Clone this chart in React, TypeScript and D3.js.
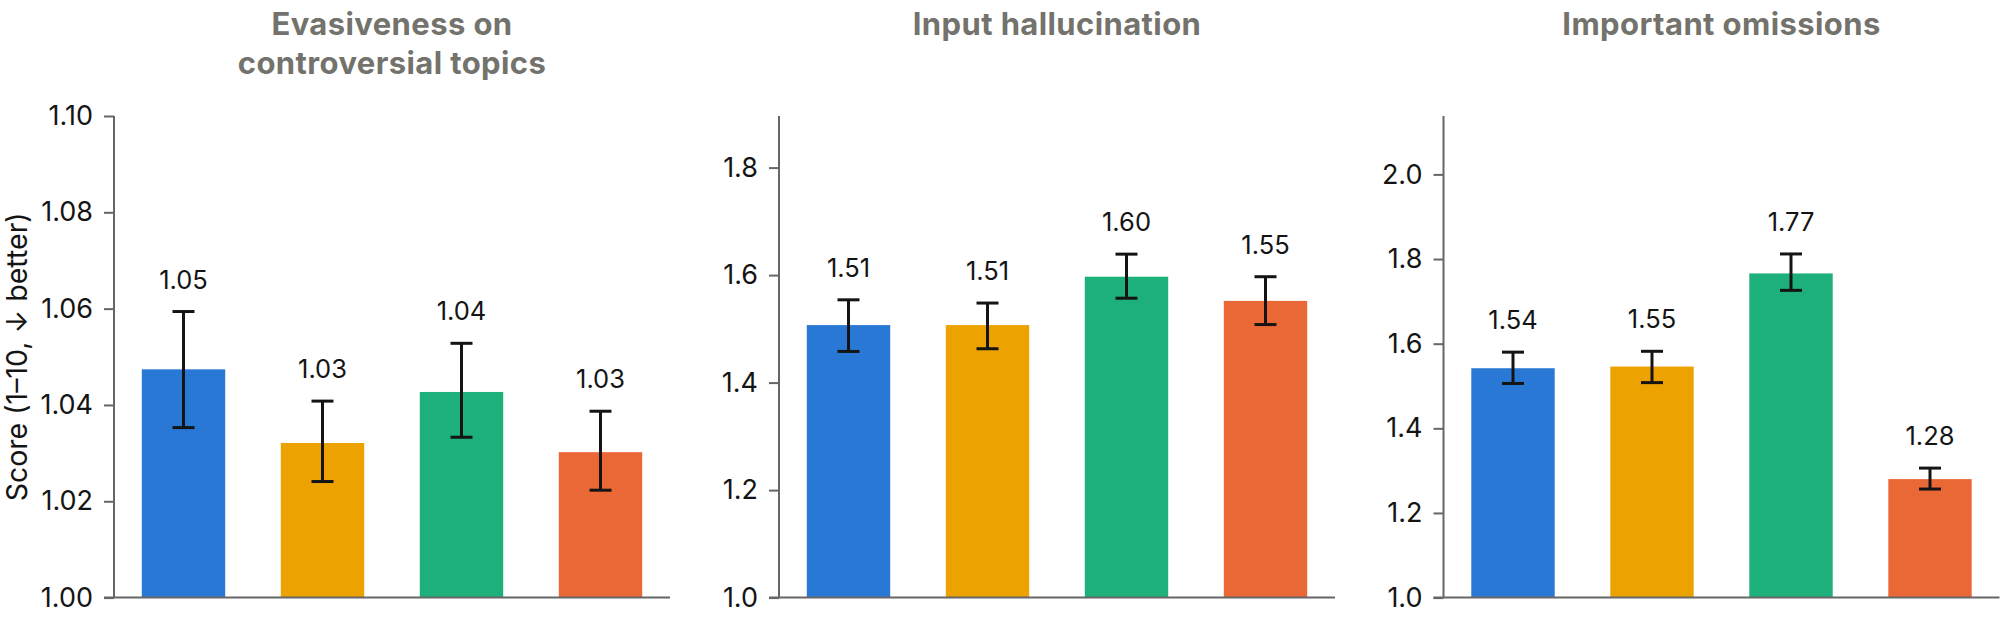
import React, { useEffect, useRef } from 'react'
import * as d3 from 'd3'

// four models per panel, same order/colours in every panel
const models = ['m1', 'm2', 'm3', 'm4']
const colors = ['#2a78d6', '#eca200', '#1db07a', '#e96836']

const titles = [['Evasiveness on', 'controversial topics'], ['Input hallucination'], ['Important omissions']]

const evasiveness = [1.0474, 1.0321, 1.0427, 1.0302]
const evasivenessLo = [1.0353, 1.0241, 1.0333, 1.0223]
const evasivenessHi = [1.0594, 1.0408, 1.0528, 1.0387]

const hallucination = [1.507, 1.507, 1.597, 1.552]
const hallucinationLo = [1.458, 1.463, 1.557, 1.508]
const hallucinationHi = [1.554, 1.548, 1.639, 1.597]

const omissions = [1.542, 1.546, 1.766, 1.28]
const omissionsLo = [1.506, 1.508, 1.726, 1.2565]
const omissionsHi = [1.58, 1.582, 1.812, 1.306]

const yMax = [1.1, 1.896, 2.138]
const yTicks = [
    [1.0, 1.02, 1.04, 1.06, 1.08, 1.1],
    [1.0, 1.2, 1.4, 1.6, 1.8],
    [1.0, 1.2, 1.4, 1.6, 1.8, 2.0],
]
const tickFormats = ['.2f', '.1f', '.1f']

const yLabel = 'Score (1\u201310, \u2193 better)'

const W = 2000
const H = 626
const FONT = 'Inter, "Noto Sans", sans-serif'

const App = () => {
    const svgRef = useRef<SVGSVGElement>(null)

    useEffect(() => {
        const svg: any = d3.select(svgRef.current)
        svg.selectAll('*').remove()

        const panels = [
            { vals: evasiveness, lo: evasivenessLo, hi: evasivenessHi },
            { vals: hallucination, lo: hallucinationLo, hi: hallucinationHi },
            { vals: omissions, lo: omissionsLo, hi: omissionsHi },
        ]
        const left = [114, 779, 1443.5]
        const pw = 556
        const top = 116
        const bottom = 597.6

        panels.forEach((p, i) => {
            const g = svg.append('g').attr('transform', `translate(${left[i]},0)`)
            const x = d3.scaleBand().domain(models).range([0, pw]).paddingInner(0.4).paddingOuter(0.2)
            const y = d3.scaleLinear().domain([1.0, yMax[i]]).range([bottom, top])

            // title
            const t = g.append('text')
                .attr('x', pw / 2)
                .attr('text-anchor', 'middle')
                .attr('font-family', FONT)
                .attr('font-weight', 700)
                .attr('font-size', 31)
                .attr('letter-spacing', 0.4)
                .attr('fill', '#73726c')
            titles[i].forEach((line, k) => {
                t.append('tspan').attr('x', pw / 2).attr('y', 35 + k * 39).text(line)
            })

            // bars
            g.selectAll('rect.bar')
                .data(p.vals)
                .join('rect')
                .attr('class', 'bar')
                .attr('x', (_: number, j: number) => x(models[j]))
                .attr('y', (d: number) => y(d))
                .attr('width', x.bandwidth())
                .attr('height', (d: number) => y(1.0) - y(d))
                .attr('fill', (_: number, j: number) => colors[j])

            // error bars + value labels
            const cap = 11
            p.vals.forEach((_, j) => {
                const cx = (x(models[j]) as number) + x.bandwidth() / 2
                const eg = g.append('g').attr('stroke', '#141414').attr('stroke-width', 3)
                eg.append('line').attr('x1', cx).attr('x2', cx).attr('y1', y(p.lo[j])).attr('y2', y(p.hi[j]))
                eg.append('line').attr('x1', cx - cap).attr('x2', cx + cap).attr('y1', y(p.lo[j])).attr('y2', y(p.lo[j]))
                eg.append('line').attr('x1', cx - cap).attr('x2', cx + cap).attr('y1', y(p.hi[j])).attr('y2', y(p.hi[j]))
                g.append('text')
                    .attr('x', cx)
                    .attr('y', y(p.hi[j]) - 23)
                    .attr('text-anchor', 'middle')
                    .attr('font-family', FONT)
                    .attr('font-size', 25.5)
                    .attr('fill', '#141414')
                    .text(d3.format('.2f')(p.vals[j]))
            })

            // y axis
            const ya = g.append('g').call(d3.axisLeft(y).tickValues(yTicks[i]).tickFormat(d3.format(tickFormats[i]) as any).tickSize(10).tickPadding(11))
            ya.select('.domain').attr('stroke', '#666').attr('stroke-width', 2).attr('d', `M0,${top}V${bottom}`)
            ya.selectAll('.tick line').attr('stroke', '#666').attr('stroke-width', 2)
            ya.selectAll('.tick text').attr('font-family', FONT).attr('font-size', 27).attr('fill', '#141414')

            // x axis line
            g.append('line')
                .attr('x1', -10).attr('x2', pw)
                .attr('y1', bottom).attr('y2', bottom)
                .attr('stroke', '#666').attr('stroke-width', 2)
        })

        svg.append('text')
            .attr('transform', `translate(27,${(top + bottom) / 2}) rotate(-90)`)
            .attr('text-anchor', 'middle')
            .attr('font-family', FONT)
            .attr('font-size', 28.5)
            .attr('fill', '#141414')
            .text(yLabel)
    }, [])

    return (
        <svg ref={svgRef} width={W} height={H} style={{ position: 'absolute', left: 0, top: 0, background: '#fff' }}></svg>
    )
}

export default App
